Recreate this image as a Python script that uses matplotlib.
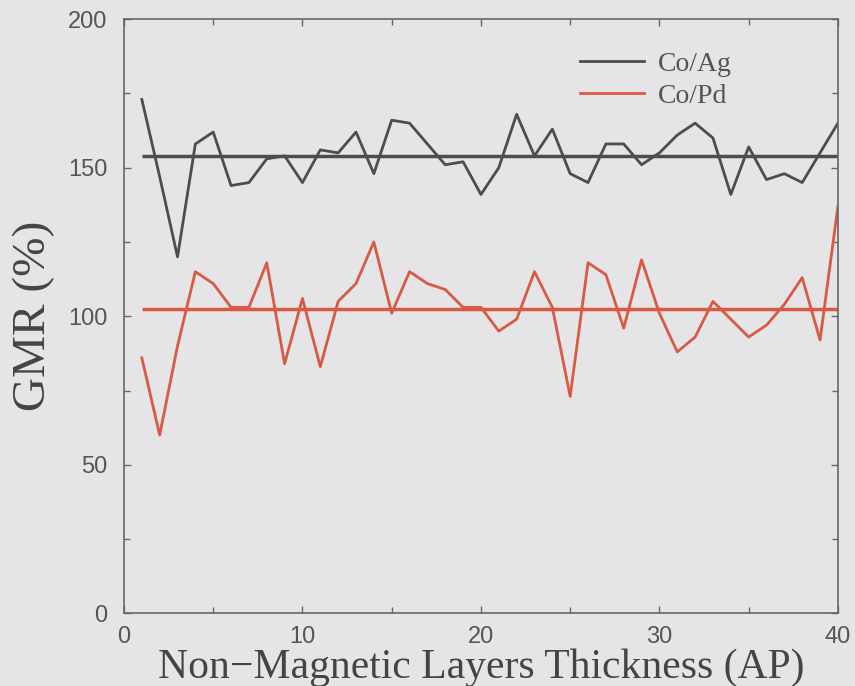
import numpy as np
import matplotlib.pyplot as plt
from matplotlib.ticker import MultipleLocator

# 数据
thickness = list(range(1, 41))
co_ag = [173, 147, 120, 158, 162, 144, 145, 153, 154, 145,
         156, 155, 162, 148, 166, 165, 158, 151, 152, 141,
         150, 168, 154, 163, 148, 145, 158, 158, 151, 155,
         161, 165, 160, 141, 157, 146, 148, 145, 155, 165]
co_pd = [86, 60, 90, 115, 111, 103, 103, 118, 84, 106,
         83, 105, 111, 125, 101, 115, 111, 109, 103, 103,
         95, 99, 115, 103, 73, 118, 114, 96, 119, 101,
         88, 93, 105, 99, 93, 97, 104, 113, 92, 137]
mean_ag = 154
mean_pd = 102.5

bg = '#e5e5e7'
c_ag = '#4d4d4f'
c_pd = '#d95a44'

fig = plt.figure(figsize=(8.55, 6.86), dpi=100, facecolor=bg)
ax = fig.add_axes([0.145, 0.106, 0.835, 0.866], facecolor=bg)

ax.plot(thickness, co_ag, color=c_ag, lw=2.0, label='Co/Ag')
ax.plot(thickness, co_pd, color=c_pd, lw=2.0, label='Co/Pd')
ax.hlines(mean_ag, thickness[0], thickness[-1], color=c_ag, lw=2.5)
ax.hlines(mean_pd, thickness[0], thickness[-1], color=c_pd, lw=2.5)

ax.set_xlim(0, 40)
ax.set_ylim(0, 200)
ax.xaxis.set_major_locator(MultipleLocator(10))
ax.xaxis.set_minor_locator(MultipleLocator(5))
ax.yaxis.set_major_locator(MultipleLocator(50))
ax.yaxis.set_minor_locator(MultipleLocator(25))
ax.tick_params(which='both', direction='in', top=True, right=True,
               color='#666666', width=1.0)
ax.tick_params(which='major', length=5, labelsize=17, labelcolor='#555555')
ax.tick_params(axis='y', which='major', pad=12)
ax.tick_params(axis='x', which='major', pad=9)
ax.tick_params(which='minor', length=4)
for lab in ax.get_xticklabels() + ax.get_yticklabels():
    lab.set_family('Liberation Sans')
for s in ax.spines.values():
    s.set_color('#666666')
    s.set_linewidth(1.2)

ax.set_xlabel('Non\u2212Magnetic Layers Thickness (AP)', family='Liberation Serif',
              fontsize=30, color='#444444')
ax.set_ylabel('GMR (%)', family='Liberation Serif', fontsize=34, color='#444444')
ax.xaxis.set_label_coords(0.5, -0.059)
ax.yaxis.set_label_coords(-0.097, 0.5)

leg = ax.legend(loc='upper left', bbox_to_anchor=(0.604, 0.988), frameon=False,
                prop={'family': 'Liberation Serif', 'size': 20},
                handlelength=2.3, labelspacing=0.25, handletextpad=0.5)
for t in leg.get_texts():
    t.set_color('#555555')

fig.savefig('out.png', dpi=100, facecolor=bg)
